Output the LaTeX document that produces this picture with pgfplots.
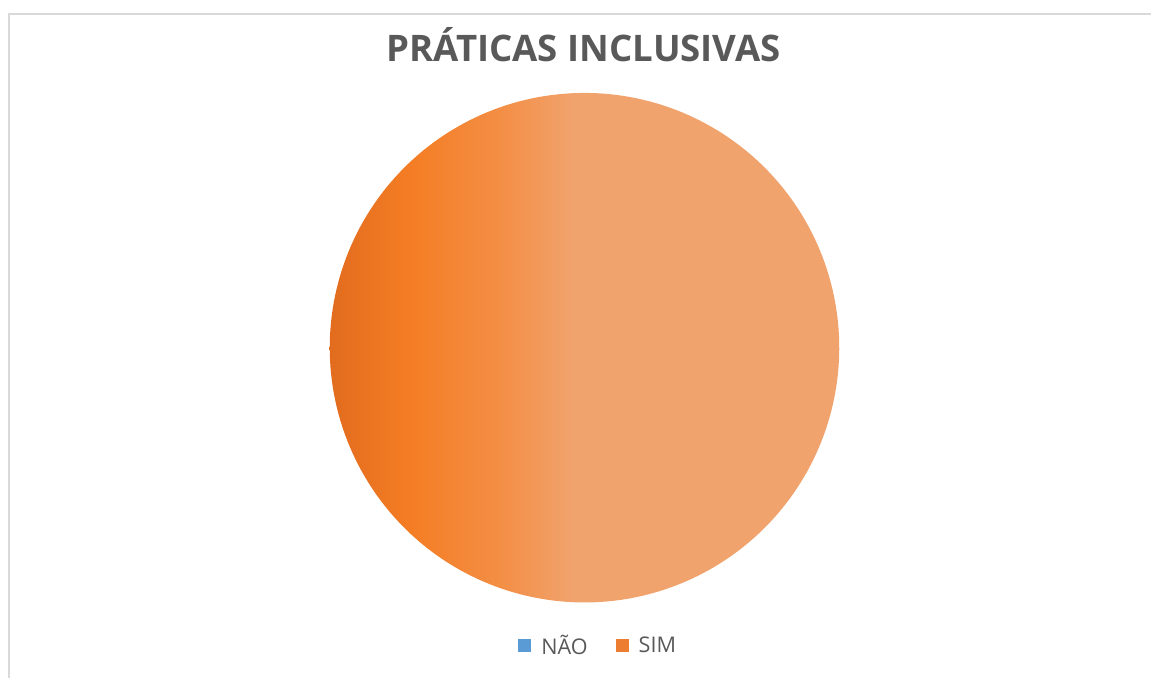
\documentclass[border=0pt]{standalone}
\usepackage{pgfplots}
\pgfplotsset{compat=1.18}
\usepackage{pgfplotstable}
\usepackage{fontspec}
\setmainfont{Open Sans}
\definecolor{titlegray}{HTML}{595959}
\definecolor{naoblue}{HTML}{5B9BD5}
\definecolor{simorange}{HTML}{ED7D31}
\definecolor{framegray}{HTML}{D9D9D9}
\definecolor{oA}{RGB}{226,108,30}
\definecolor{oB}{RGB}{244,125,36}
\definecolor{oC}{RGB}{243,143,70}
\definecolor{oD}{RGB}{241,163,110}
\pgfdeclarehorizontalshading{pieorange}{100bp}{color(0bp)=(oA); color(25bp)=(oA); color(33bp)=(oB); color(42bp)=(oC); color(49bp)=(oD); color(75bp)=(oD); color(100bp)=(oD)}
\pgfplotstableread{
label value
NAO 0
SIM 100
}\pietable
\pgfplotstablegetelem{0}{value}\of\pietable \let\valNao\pgfplotsretval
\pgfplotstablegetelem{1}{value}\of\pietable \let\valSim\pgfplotsretval
\pgfmathsetmacro{\total}{\valNao+\valSim}
\pgfmathsetmacro{\simStart}{90-360*(\valNao/\total)}
\pgfmathsetmacro{\simEnd}{\simStart-360*(\valSim/\total)}
\begin{document}
\begin{tikzpicture}
\begin{axis}[
  width=576pt, height=339.5pt, scale only axis,
  xmin=0, xmax=1152, ymin=0, ymax=679,
  hide axis, clip=false,
  legend columns=2,
  legend style={draw=none, fill=none, font=\fontsize{10.8}{13}\selectfont\color{titlegray},
    at={(axis description cs:0.5205,0.0471)}, anchor=center,
    /tikz/every even column/.append style={column sep=12pt}},
  legend cell align=left,
]
\path (axis cs:0,0) (axis cs:1152,679);
\draw[framegray, line width=1pt] (axis cs:9,0) -- (axis cs:9,665) -- (axis cs:1152,665);
\addplot[draw=none, fill=none, forget plot] coordinates {(0,0)};
\addplot[draw=none, shading=pieorange, domain=\simEnd:\simStart, samples=240, forget plot]
  ({585+255*cos(x)},{331+255*sin(x)});
\addlegendimage{legend image code/.code={\fill[naoblue] (0pt,-2.6pt) rectangle (6pt,3.4pt); \path (9.2pt,0pt);}}
\addlegendentry{NÃO}
\addlegendimage{legend image code/.code={\fill[simorange] (0pt,-2.6pt) rectangle (6pt,3.4pt); \path (9.2pt,0pt);}}
\addlegendentry{SIM}
\node[font=\fontsize{18.3}{22}\selectfont\bfseries, text=titlegray] at (axis cs:584,634) {PRÁTICAS INCLUSIVAS};
\end{axis}
\end{tikzpicture}
\end{document}
